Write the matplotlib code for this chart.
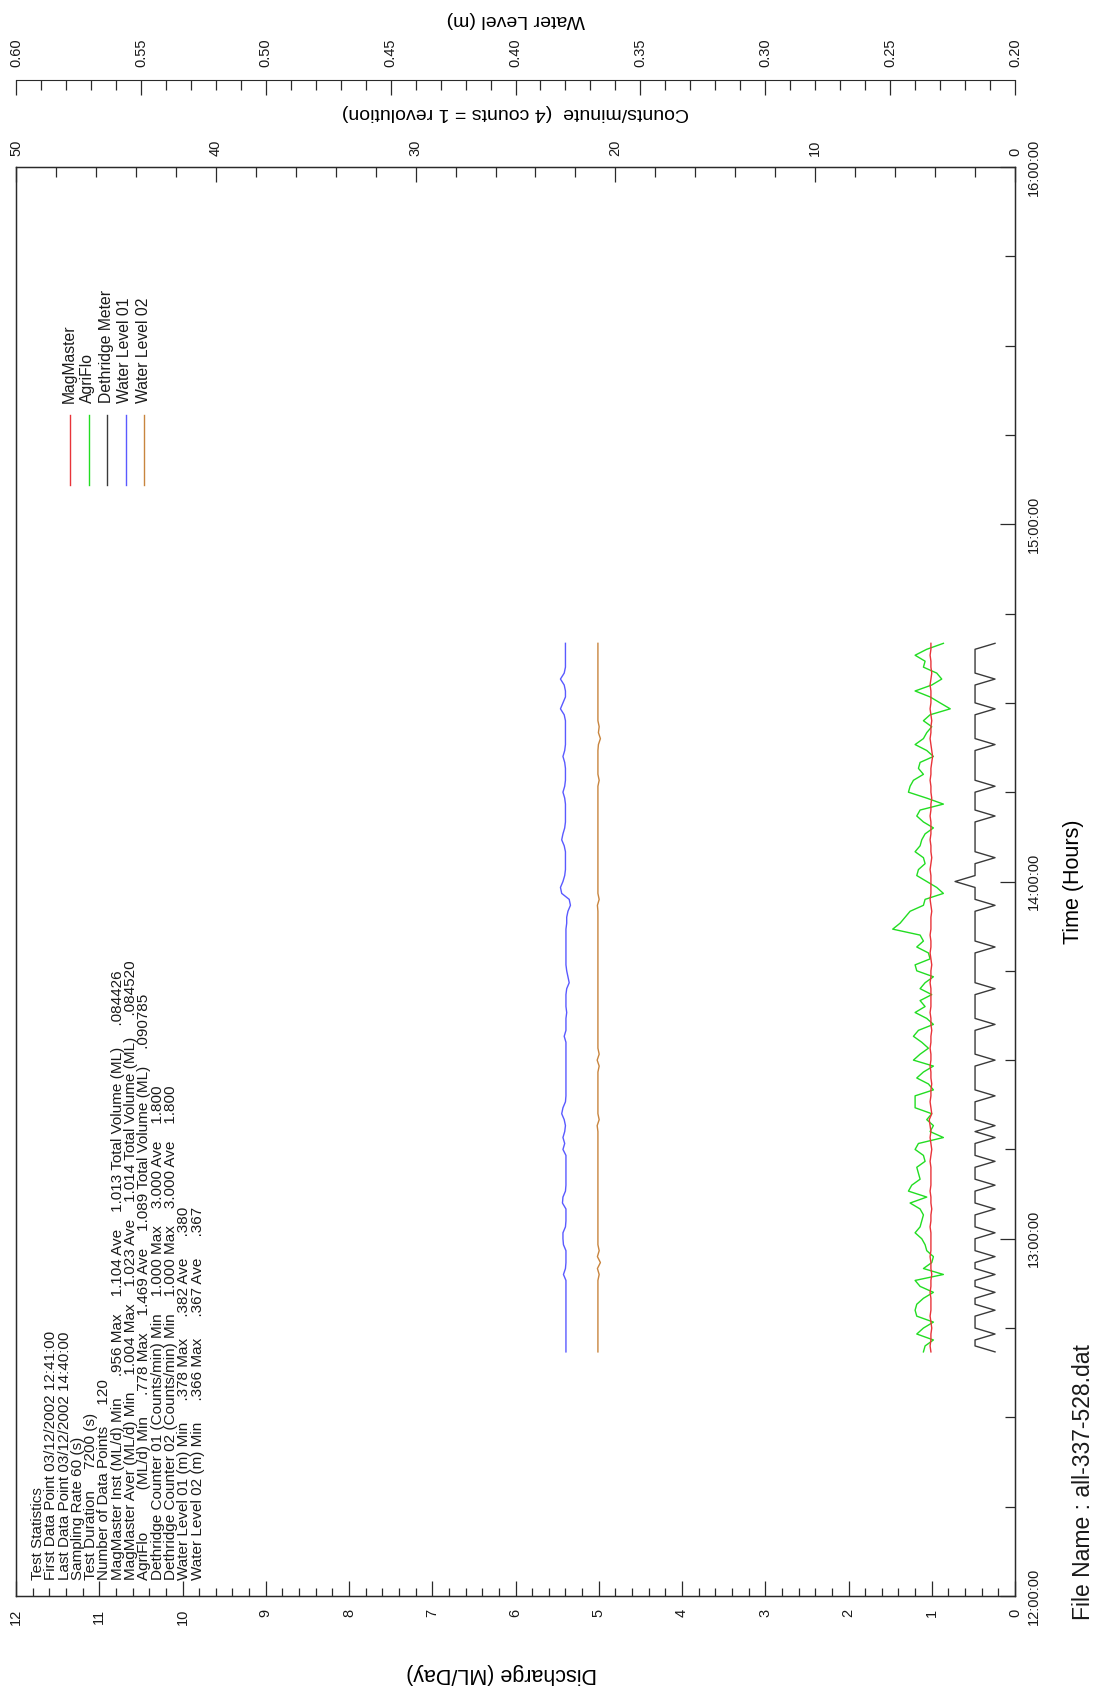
import matplotlib
matplotlib.use("Agg")
import matplotlib.pyplot as plt
from matplotlib.lines import Line2D
from matplotlib.ticker import MultipleLocator, FuncFormatter
import numpy as np

# ---------------------------------------------------------------- data
# one sample per minute, 12:41 to 14:40
start_minute = 41
n_points = 120

magmaster = [
    1.01, 1.02, 1.01, 1.01, 1.00, 1.01, 1.02, 1.01, 1.01, 1.01,
    1.02, 1.01, 1.01, 1.00, 1.01, 1.01, 1.02, 1.01, 1.01, 1.01,
    1.01, 1.02, 1.01, 1.01, 1.00, 1.01, 1.01, 1.02, 1.01, 1.01,
    1.01, 1.01, 1.02, 1.01, 1.00, 1.01, 1.02, 1.01, 1.02, 1.03,
    1.00, 1.01, 1.02, 1.01, 1.01, 1.00, 1.01, 1.01, 1.02, 1.01,
    1.01, 1.02, 1.01, 1.01, 1.00, 1.01, 1.01, 1.02, 1.01, 1.01,
    1.01, 1.01, 1.02, 1.01, 1.01, 1.00, 1.01, 1.02, 1.01, 1.01,
    1.02, 1.01, 1.01, 1.01, 1.00, 1.01, 1.02, 1.01, 1.01, 1.01,
    1.01, 1.02, 1.01, 1.00, 1.01, 1.01, 1.02, 1.01, 1.01, 1.01,
    1.02, 1.01, 1.01, 1.00, 1.01, 1.01, 1.02, 1.01, 1.01, 1.00,
    0.99, 1.00, 1.01, 1.02, 1.01, 1.01, 1.00, 1.01, 1.02, 1.01,
    1.01, 1.01, 1.02, 1.01, 1.00, 1.01, 1.01, 1.02, 1.01, 1.01,
]

agriflo = [
    1.10, 1.08, 0.98, 1.18, 1.10, 0.98, 1.18, 1.20, 1.18, 1.10,
    0.98, 1.14, 1.20, 0.86, 1.10, 1.00, 0.98, 1.06, 1.08, 1.12,
    1.20, 1.14, 1.12, 1.10, 1.14, 1.26, 1.06, 1.28, 1.24, 1.14,
    1.16, 1.18, 1.08, 1.10, 1.20, 1.16, 0.86, 1.02, 0.98, 1.06,
    1.00, 1.20, 1.20, 1.20, 0.98, 1.04, 1.18, 1.10, 0.98, 1.22,
    1.14, 1.04, 1.12, 1.22, 1.16, 0.98, 1.06, 1.20, 1.08, 1.14,
    1.00, 1.14, 1.08, 0.98, 1.18, 1.20, 1.02, 1.04, 1.18, 1.10,
    1.14, 1.469, 1.38, 1.32, 1.26, 1.10, 1.08, 0.86, 0.94, 1.06,
    1.18, 1.16, 1.08, 1.10, 1.20, 1.14, 1.12, 1.08, 0.98, 1.10,
    1.18, 1.14, 0.86, 1.06, 1.28, 1.26, 1.22, 1.10, 1.16, 1.14,
    0.98, 1.06, 1.20, 1.10, 1.06, 1.00, 1.10, 1.02, 0.778, 0.90,
    1.02, 1.20, 1.00, 0.88, 0.94, 1.10, 1.08, 1.20, 1.06, 0.86,
]

dethridge = [
    1, 2, 2, 1, 2, 2, 2, 1, 2, 2,
    1, 2, 2, 1, 2, 2, 1, 2, 2, 2,
    1, 2, 2, 2, 1, 2, 2, 2, 1, 2,
    2, 2, 1, 2, 2, 2, 1, 2, 1, 2,
    2, 2, 2, 1, 2, 2, 2, 2, 2, 1,
    2, 2, 2, 2, 2, 1, 2, 2, 2, 2,
    2, 1, 2, 2, 2, 2, 2, 2, 1, 2,
    2, 2, 2, 2, 2, 1, 2, 2, 2, 3,
    2, 2, 2, 1, 2, 2, 2, 2, 2, 2,
    1, 2, 2, 2, 2, 1, 2, 2, 2, 2,
    2, 2, 1, 2, 2, 2, 2, 2, 1, 2,
    2, 2, 2, 1, 2, 2, 2, 2, 2, 1,
]

water_level_01 = [
    .3798, .3798, .3798, .3798, .3798, .3798, .3798, .3798, .3798, .3798,
    .3798, .3798, .3798, .3808, .3800, .3798, .3798, .3798, .3808, .3810,
    .3810, .3800, .3798, .3798, .3798, .3812, .3810, .3800, .3798, .3798,
    .3798, .3798, .3798, .3798, .3810, .3803, .3810, .3803, .3800, .3805,
    .3815, .3810, .3800, .3798, .3798, .3798, .3798, .3798, .3798, .3798,
    .3798, .3798, .3798, .3805, .3798, .3798, .3798, .3795, .3798, .3798,
    .3798, .3795, .3785, .3790, .3795, .3798, .3798, .3798, .3798, .3798,
    .3798, .3798, .3795, .3795, .3790, .3780, .3785, .3815, .3820, .3810,
    .3803, .3800, .3800, .3800, .3800, .3805, .3815, .3810, .3803, .3800,
    .3800, .3800, .3800, .3803, .3810, .3803, .3800, .3800, .3800, .3803,
    .3810, .3803, .3800, .3800, .3800, .3800, .3800, .3805, .3820, .3810,
    .3800, .3800, .3805, .3820, .3805, .3800, .3800, .3800, .3800, .3800,
]

water_level_02 = [
    .3670, .3670, .3670, .3670, .3670, .3670, .3670, .3670, .3670, .3670,
    .3670, .3670, .3670, .3665, .3672, .3660, .3672, .3665, .3670, .3670,
    .3670, .3670, .3670, .3670, .3670, .3670, .3670, .3670, .3670, .3670,
    .3670, .3670, .3670, .3670, .3670, .3670, .3670, .3670, .3673, .3665,
    .3670, .3670, .3670, .3670, .3670, .3670, .3670, .3670, .3665, .3673,
    .3665, .3670, .3670, .3670, .3670, .3670, .3670, .3670, .3670, .3670,
    .3670, .3670, .3670, .3670, .3670, .3670, .3670, .3670, .3670, .3670,
    .3670, .3670, .3670, .3670, .3670, .3672, .3665, .3670, .3670, .3670,
    .3670, .3670, .3670, .3670, .3670, .3670, .3670, .3670, .3670, .3670,
    .3670, .3670, .3670, .3670, .3670, .3670, .3665, .3670, .3670, .3670,
    .3670, .3670, .3668, .3660, .3668, .3665, .3670, .3670, .3670, .3670,
    .3670, .3670, .3670, .3670, .3670, .3670, .3670, .3670, .3670, .3670,
]

series_names = ["MagMaster", "AgriFlo", "Dethridge Meter", "Water Level 01", "Water Level 02"]
series_colors = ["#e8343a", "#22dd22", "#3a3a3a", "#5a5aff", "#c8853f"]

stats_lines = [
    "Test Statistics",
    "First Data Point 03/12/2002 12:41:00",
    "Last Data Point 03/12/2002 14:40:00",
    "Sampling Rate 60 (s)",
    "Test Duration     7200 (s)",
    "Number of Data Points     120",
    "MagMaster Inst (ML/d) Min     .956 Max    1.104 Ave    1.013 Total Volume (ML)     .084426",
    "MagMaster Aver (ML/d) Min    1.004 Max    1.023 Ave    1.014 Total Volume (ML)     .084520",
    "AgriFlo          (ML/d) Min     .778 Max    1.469 Ave    1.089 Total Volume (ML)    .090785",
    "Dethridge Counter 01 (Counts/min) Min    1.000 Max    3.000 Ave    1.800",
    "Dethridge Counter 02 (Counts/min) Min    1.000 Max    3.000 Ave    1.800",
    "Water Level 01 (m) Min     .378 Max     .382 Ave     .380",
    "Water Level 02 (m) Min     .366 Max     .367 Ave     .367",
]

file_name = "File Name : all-337-528.dat"

# ---------------------------------------------------------------- figure
W, H, DPI = 1094, 1694, 100
plt.rcParams["font.family"] = ["Liberation Sans", "DejaVu Sans"]
TEXT = "#1a1a1a"
plt.rcParams["text.color"] = TEXT
plt.rcParams["axes.edgecolor"] = "#2a2a2a"
plt.rcParams["xtick.color"] = "#2a2a2a"
plt.rcParams["ytick.color"] = "#2a2a2a"
plt.rcParams["xtick.labelcolor"] = TEXT
plt.rcParams["ytick.labelcolor"] = TEXT

fig = plt.figure(figsize=(W / DPI, H / DPI), dpi=DPI, facecolor="white")


def fx(px):
    return px / W


def fy(py):
    return 1 - py / H


# plot frame in pixels (the chart is laid out turned a quarter turn)
L, R, T, B = 16, 1015, 167, 1596
ax = fig.add_axes([fx(L), fy(B), (R - L) / W, (B - T) / H])

minutes = start_minute + np.arange(n_points)
time_h = 12 + minutes / 60.0

LW = 1.0
TICK_FS = 10.5
TITLE_FS = 14
SIDE_TITLE_FS = 15.5

# discharge (horizontal, increasing to the left) vs time (vertical)
ax.set_xlim(12, 0)
ax.set_ylim(12, 16)
ax.plot(magmaster, time_h, color=series_colors[0], lw=LW, zorder=3)
ax.plot(agriflo, time_h, color=series_colors[1], lw=LW, zorder=2)

ax.xaxis.set_major_locator(MultipleLocator(1))
ax.xaxis.set_minor_locator(MultipleLocator(0.2))
ax.xaxis.set_major_formatter(FuncFormatter(lambda v, p: f"{v:g}"))
ax.tick_params(axis="x", which="both", direction="in", bottom=True, top=False,
               labelrotation=90, labelsize=TICK_FS, pad=9, width=0.9)
ax.tick_params(axis="x", which="major", length=11)
ax.tick_params(axis="x", which="minor", length=6)

ax.yaxis.tick_right()
ax.yaxis.set_major_locator(MultipleLocator(1))
ax.yaxis.set_minor_locator(MultipleLocator(0.25))
ax.yaxis.set_major_formatter(FuncFormatter(lambda v, p: f"{int(round(v)):02d}:00:00"))
ax.tick_params(axis="y", which="both", direction="in", left=False, right=True,
               labelrotation=90, labelsize=TICK_FS, pad=8.5, width=0.9)
ax.tick_params(axis="y", which="major", length=11)
ax.tick_params(axis="y", which="minor", length=7)
for lab in ax.get_yticklabels():
    lab.set_va("center")

ax.set_xlabel("Discharge (ML/Day)", rotation=180, fontsize=SIDE_TITLE_FS)
ax.xaxis.label.set_va("center")
ax.xaxis.set_label_coords((502 - L) / (R - L), (B - 1673) / (B - T))
ax.yaxis.set_label_position("right")
ax.set_ylabel("Time (Hours)", rotation=90, fontsize=SIDE_TITLE_FS)
ax.yaxis.label.set_va("center")
ax.yaxis.label.set_ha("center")
ax.yaxis.set_label_coords((1074 - L) / (R - L), 0.5)

for s in ax.spines.values():
    s.set_linewidth(1.0)

# counts/minute axis along the top frame edge
axc = ax.twiny()
axc.set_xlim(50, 0)
axc.plot(dethridge, time_h, color=series_colors[2], lw=LW, zorder=2)
axc.xaxis.set_major_locator(MultipleLocator(10))
axc.xaxis.set_minor_locator(MultipleLocator(2))
axc.xaxis.set_major_formatter(FuncFormatter(lambda v, p: f"{v:g}"))
axc.tick_params(axis="x", which="both", direction="in", top=True, bottom=False,
                labelrotation=90, labelsize=TICK_FS, pad=8, width=0.9)
axc.tick_params(axis="x", which="major", length=11)
axc.tick_params(axis="x", which="minor", length=7)
axc.set_xlabel("Counts/minute  (4 counts = 1 revolution)", rotation=180, fontsize=TITLE_FS)
axc.xaxis.label.set_va("center")
axc.xaxis.set_label_coords(0.5, (B - 113) / (B - T))

# water level axis, offset above the frame
axw = ax.twiny()
axw.set_xlim(0.60, 0.20)
axw.plot(water_level_01, time_h, color=series_colors[3], lw=LW, zorder=2)
axw.plot(water_level_02, time_h, color=series_colors[4], lw=LW, zorder=2)
axw.spines["top"].set_position(("outward", (T - 80) * 72 / DPI))
for side in ("bottom", "left", "right"):
    axw.spines[side].set_visible(False)
axw.xaxis.set_major_locator(MultipleLocator(0.05))
axw.xaxis.set_minor_locator(MultipleLocator(0.01))
axw.xaxis.set_major_formatter(FuncFormatter(lambda v, p: f"{v:.2f}"))
axw.tick_params(axis="x", which="both", direction="in", top=True, bottom=False,
                labelrotation=90, labelsize=TICK_FS, pad=9, width=0.9)
axw.tick_params(axis="x", which="major", length=11)
axw.tick_params(axis="x", which="minor", length=7)
axw.set_xlabel("Water Level (m)", rotation=180, fontsize=TITLE_FS)
axw.xaxis.label.set_va("center")
axw.xaxis.set_label_coords(0.5, (B - 20) / (B - T))

# legend: short vertical strokes with names running up the page
leg_x = [70, 88.5, 107, 125.5, 144]
for x, name, col in zip(leg_x, series_names, series_colors):
    fig.add_artist(Line2D([fx(x), fx(x)], [fy(415), fy(485)], transform=fig.transFigure,
                          color=col, lw=LW))
    fig.text(fx(x - 1), fy(403), name, rotation=90, rotation_mode="anchor",
             ha="left", va="center", fontsize=11.3)

# test statistics block
for i, line in enumerate(stats_lines):
    fig.text(fx(38 + i * 13.3), fy(1580), line, rotation=90, rotation_mode="anchor",
             ha="left", va="center", fontsize=11)

fig.text(fx(1084), fy(1620), file_name, rotation=90, rotation_mode="anchor",
         ha="left", va="center", fontsize=16.5)

fig.savefig("out.png", dpi=DPI, facecolor="white")
